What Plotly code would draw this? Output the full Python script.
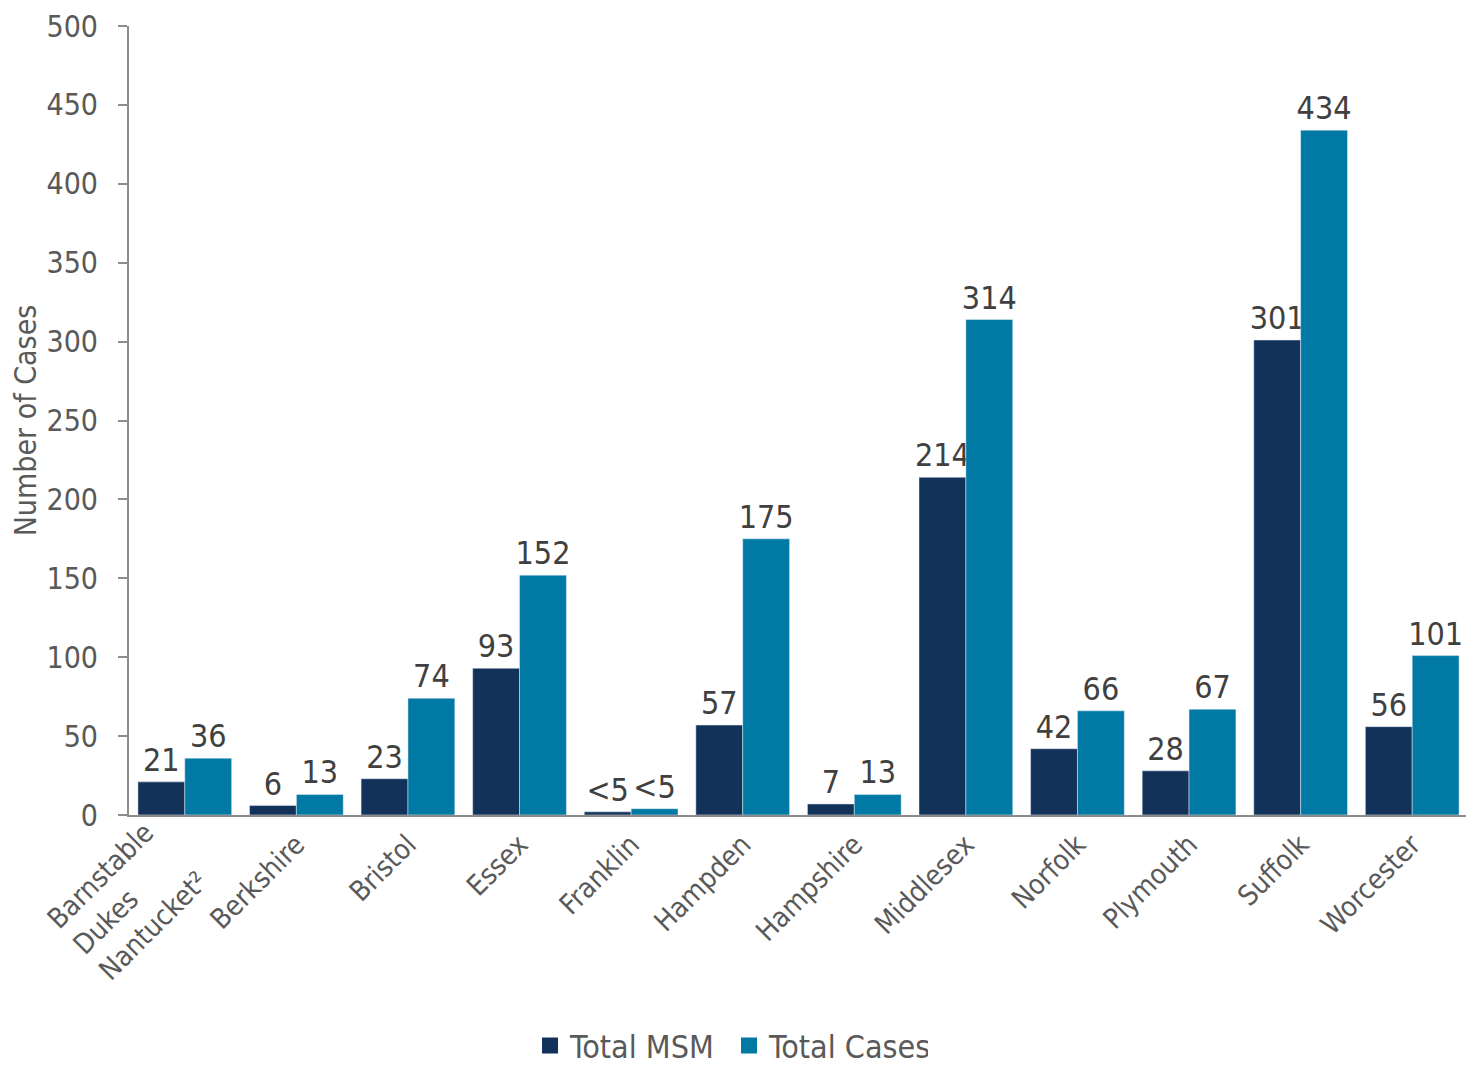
import plotly.graph_objects as go

categories = ["Barnstable Dukes Nantucket²", "Berkshire", "Bristol", "Essex", "Franklin",
              "Hampden", "Hampshire", "Middlesex", "Norfolk", "Plymouth", "Suffolk", "Worcester"]
tick_labels = ["", "Berkshire", "Bristol", "Essex", "Franklin",
               "Hampden", "Hampshire", "Middlesex", "Norfolk", "Plymouth", "Suffolk", "Worcester"]
first_label = "Barnstable<br>Dukes<br>Nantucket²"
msm_values = [21, 6, 23, 93, 2, 57, 7, 214, 42, 28, 301, 56]
msm_labels = ["21", "6", "23", "93", "<5", "57", "7", "214", "42", "28", "301", "56"]
cases_values = [36, 13, 74, 152, 4, 175, 13, 314, 66, 67, 434, 101]
cases_labels = ["36", "13", "74", "152", "<5", "175", "13", "314", "66", "67", "434", "101"]

FONT = "Liberation Sans Narrow, Arial Narrow, DejaVu Sans Condensed, sans-serif"
C_MSM = "#13325A"
C_CASES = "#0079A5"
GREY = "#595959"

fig = go.Figure()
fig.add_trace(go.Bar(x=categories, y=msm_values, name="Total MSM", marker_color=C_MSM,
                     text=msm_labels, textposition="outside", cliponaxis=False,
                     constraintext="none", showlegend=False,
                     textfont=dict(size=32, color="#404040", family=FONT)))
fig.add_trace(go.Bar(x=categories, y=cases_values, name="Total Cases", marker_color=C_CASES,
                     text=cases_labels, textposition="outside", cliponaxis=False,
                     constraintext="none", showlegend=False,
                     textfont=dict(size=32, color="#404040", family=FONT)))
# legend entries with larger square swatches (no visible points)
for nm, col in [("Total MSM", C_MSM), ("Total Cases", C_CASES)]:
    fig.add_trace(go.Scatter(x=[categories[0]], y=[None], mode="markers", name=nm,
                             marker=dict(symbol="square", size=18, color=col)))

fig.add_annotation(x=categories[0], y=0, xref="x", yref="y", text=first_label,
                   textangle=-45, align="left", showarrow=False,
                   xanchor="center", yanchor="middle", xshift=-57, yshift=-85,
                   font=dict(size=28, color=GREY, family=FONT))

# page body has an 8px default margin, so the figure is sized/offset to compensate
fig.update_layout(
    width=1466, height=1058,
    margin=dict(l=121, r=6, t=18, b=251, autoexpand=False),
    paper_bgcolor="white", plot_bgcolor="white",
    barmode="group", bargap=0.16, bargroupgap=0,
    font=dict(family=FONT, color=GREY, size=30),
    legend=dict(orientation="h", x=0.2995, xanchor="left", y=-0.2925, yanchor="middle",
                font=dict(size=32, color=GREY, family=FONT), itemsizing="trace",
                entrywidth=154, entrywidthmode="pixels"),
    showlegend=True,
)
fig.update_xaxes(showline=True, linecolor="#8C8C8C", linewidth=2, tickangle=-45,
                 range=[-0.5, len(categories) - 0.5],
                 tickmode="array", tickvals=categories, ticktext=tick_labels,
                 ticks="", tickfont=dict(size=28, color=GREY, family=FONT), showgrid=False,
                 automargin=False)
fig.update_yaxes(range=[0, 500], dtick=50, showline=True, linecolor="#8C8C8C", linewidth=2,
                 ticks="outside", ticklen=9, tickcolor="#8C8C8C", tickwidth=2,
                 ticklabelstandoff=14, ticklabeloverflow="allow",
                 showgrid=False, zeroline=False, automargin=False,
                 tickfont=dict(size=30, color=GREY, family=FONT),
                 title=dict(text="Number of Cases", font=dict(size=30, color=GREY, family=FONT),
                            standoff=14))

fig.write_html("out.html")
